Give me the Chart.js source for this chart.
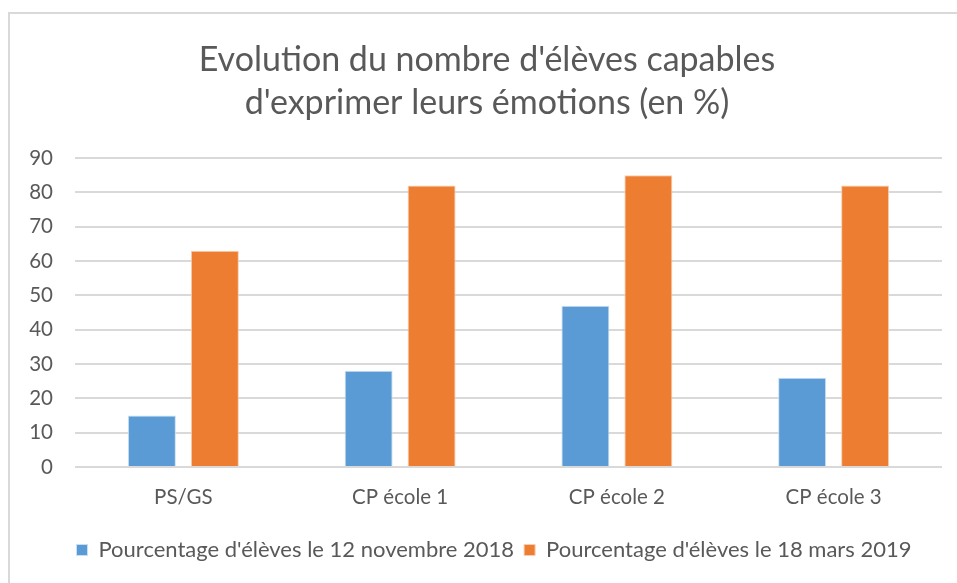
<!DOCTYPE html>
<html>
<head>
<meta charset="utf-8">
<script src="https://cdn.jsdelivr.net/npm/chart.js@4/dist/chart.umd.min.js"></script>
<style>
  html, body { margin: 0; padding: 0; background: #ffffff; overflow: hidden; }
  #wrap { position: absolute; left: 0; top: 0; width: 957px; height: 583px; }
</style>
</head>
<body>
<div id="wrap"><canvas id="c" width="957" height="583"></canvas></div>
<script>
const titleLines = ["Evolution du nombre d'élèves capables", "d'exprimer leurs émotions (en %)"];
const categories = ["PS/GS", "CP école 1", "CP école 2", "CP école 3"];
const seriesNames = ["Pourcentage d'élèves le 12 novembre 2018", "Pourcentage d'élèves le 18 mars 2019"];
const nov2018 = [15, 28, 47, 26];
const mar2019 = [63, 82, 85, 82];
const yTicks = [0, 10, 20, 30, 40, 50, 60, 70, 80, 90];

const FONT = "Lato, 'Open Sans', sans-serif";
const TEXT = '#595959';

const framePlugin = {
  id: 'frame',
  beforeDraw(chart) {
    const ctx = chart.ctx;
    ctx.save();
    ctx.fillStyle = '#ffffff';
    ctx.fillRect(0, 0, chart.width, chart.height);
    ctx.strokeStyle = '#d9d9d9';
    ctx.lineWidth = 2;
    ctx.strokeRect(9, 13, 1000, 700);
    ctx.restore();
  },
  afterLayout(chart) {
    // center title and legend on the chart object as in the reference
    const shift = (box, d) => { if (box) { box.left += d; box.right += d; } };
    shift(chart.titleBlock, 6);
    shift(chart.legend, 13);
  }
};

new Chart(document.getElementById('c'), {
  type: 'bar',
  data: {
    labels: categories,
    datasets: [
      { label: seriesNames[0], data: nov2018, backgroundColor: '#5B9BD5', borderColor: '#c9def2', borderWidth: 1 },
      { label: seriesNames[1], data: mar2019, backgroundColor: '#ED7D31', borderColor: '#f8cdb0', borderWidth: 1 }
    ]
  },
  options: {
    responsive: false,
    animation: false,
    layout: { padding: { left: 20, right: 15, top: 0, bottom: 12 } },
    datasets: { bar: { categoryPercentage: 0.581, barPercentage: 0.762 } },
    plugins: {
      title: {
        display: true,
        text: titleLines,
        color: TEXT,
        font: { family: FONT, size: 34, weight: 'normal', lineHeight: 1.265 },
        padding: { top: 39, bottom: 33 }
      },
      legend: {
        position: 'bottom',
        labels: {
          color: TEXT,
          font: { family: FONT, size: 22 },
          boxWidth: 11,
          boxHeight: 11,
          padding: 10
        }
      },
      tooltip: { enabled: false }
    },
    scales: {
      x: {
        grid: { display: false, drawTicks: false },
        border: { display: false },
        ticks: { color: TEXT, font: { family: FONT, size: 20.5 }, padding: 18 },
        afterFit(scale) { scale.height = 62; }
      },
      y: {
        min: 0, max: 90,
        afterBuildTicks(scale) { scale.ticks = yTicks.map(v => ({ value: v })); },
        grid: { color: '#d9d9d9', lineWidth: 2, drawTicks: false },
        border: { display: false },
        ticks: { color: TEXT, font: { family: FONT, size: 20.5 }, padding: 22 },
        afterFit(scale) { scale.width = 55; }
      }
    }
  },
  plugins: [framePlugin]
});
</script>
</body>
</html>
